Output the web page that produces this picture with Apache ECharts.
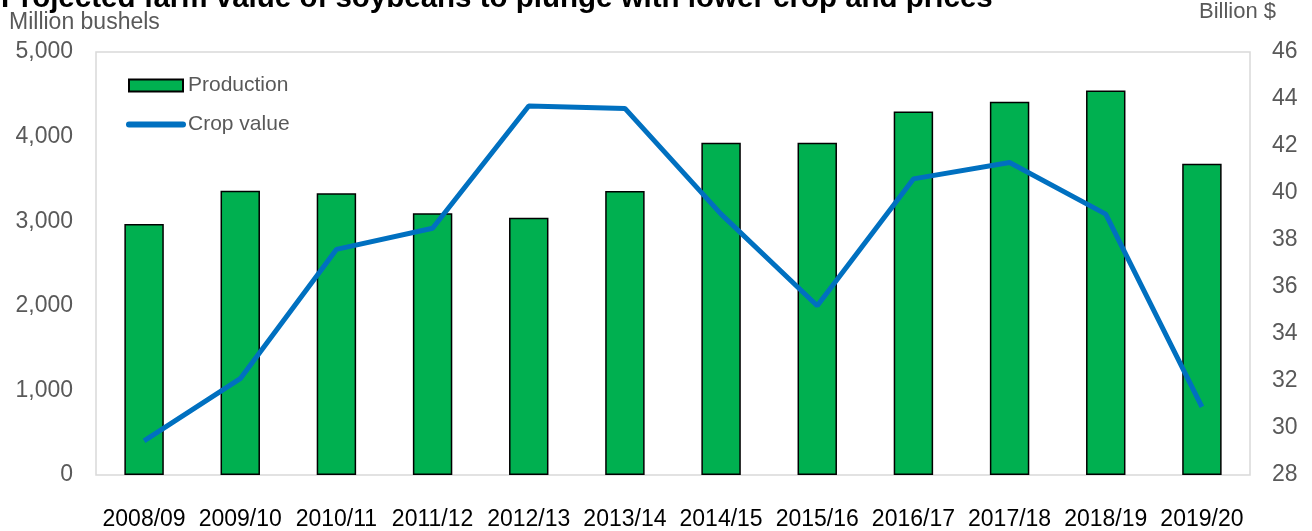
<!DOCTYPE html>
<html>
<head>
<meta charset="utf-8">
<style>
  html, body { margin: 0; padding: 0; background: #fff; }
  #main { width: 1312px; height: 531px; }
</style>
<script src="https://cdn.jsdelivr.net/npm/echarts@6/dist/echarts.min.js"></script>
</head>
<body>
<div id="main"></div>
<script>
// marketing years
var years = ['2008/09','2009/10','2010/11','2011/12','2012/13','2013/14','2014/15','2015/16','2016/17','2017/18','2018/19','2019/20'];
// soybean production, million bushels
var production = [2967, 3359, 3329, 3094, 3042, 3357, 3927, 3926, 4296, 4412, 4544, 3680];
// crop value, billion $
var cropValue = [29.45, 32.1, 37.6, 38.5, 43.7, 43.6, 39.1, 35.2, 40.6, 41.3, 39.1, 30.9];

var font = 'Liberation Sans, Arial, sans-serif';
var myChart = echarts.init(document.getElementById('main'));

var option = {
    animation: false,
    title: {
        text: 'Projected farm value of soybeans to plunge with lower crop and prices',
        left: 1,
        top: -16,
        padding: 0,
        textStyle: { fontFamily: font, fontSize: 29.5, fontWeight: 'bold', color: '#000' }
    },
    graphic: [
        { type: 'text', left: 9, top: 11, style: { text: 'Million bushels', font: '23px ' + font, fill: '#595959' } },
        { type: 'text', left: 1199, top: 1, style: { text: 'Billion $', font: '22px ' + font, fill: '#595959' } }
    ],
    legend: {
        orient: 'vertical',
        left: 121,
        top: 70,
        itemGap: 18,
        itemWidth: 54,
        itemHeight: 12,
        textStyle: { fontFamily: font, fontSize: 21, color: '#595959' },
        data: [
            { name: 'Production', icon: 'rect' },
            { name: 'Crop value', itemStyle: { opacity: 0 }, lineStyle: { width: 6, cap: 'round' } }
        ]
    },
    grid: {
        left: 96, right: 62, top: 52, bottom: 55,
        show: true, borderColor: '#d9d9d9', borderWidth: 1.5
    },
    xAxis: {
        type: 'category',
        data: years,
        axisLine: { show: false },
        axisTick: { show: false },
        axisLabel: { fontFamily: font, fontSize: 23, color: '#000', margin: 33, interval: 0 }
    },
    yAxis: [
        {
            type: 'value', min: 0, max: 5000, interval: 1000,
            splitLine: { show: false },
            axisLine: { show: false },
            axisLabel: {
                fontFamily: font, fontSize: 23, color: '#595959', margin: 23, padding: [5, 0, 0, 0],
                formatter: function (v) { return v.toLocaleString('en-US'); }
            }
        },
        {
            type: 'value', min: 28, max: 46, interval: 2,
            splitLine: { show: false },
            axisLine: { show: false },
            axisLabel: { fontFamily: font, fontSize: 23, color: '#595959', margin: 22, padding: [5, 0, 0, 0] }
        }
    ],
    series: [
        {
            name: 'Production',
            type: 'bar',
            data: production,
            barWidth: '41%',
            itemStyle: { color: '#00B050', borderColor: '#000', borderWidth: 1.5 }
        },
        {
            name: 'Crop value',
            type: 'line',
            yAxisIndex: 1,
            data: cropValue,
            showSymbol: false,
            symbol: 'none',
            lineStyle: { color: '#0070C0', width: 5 },
            itemStyle: { color: '#0070C0' }
        }
    ]
};
myChart.setOption(option);
</script>
</body>
</html>
